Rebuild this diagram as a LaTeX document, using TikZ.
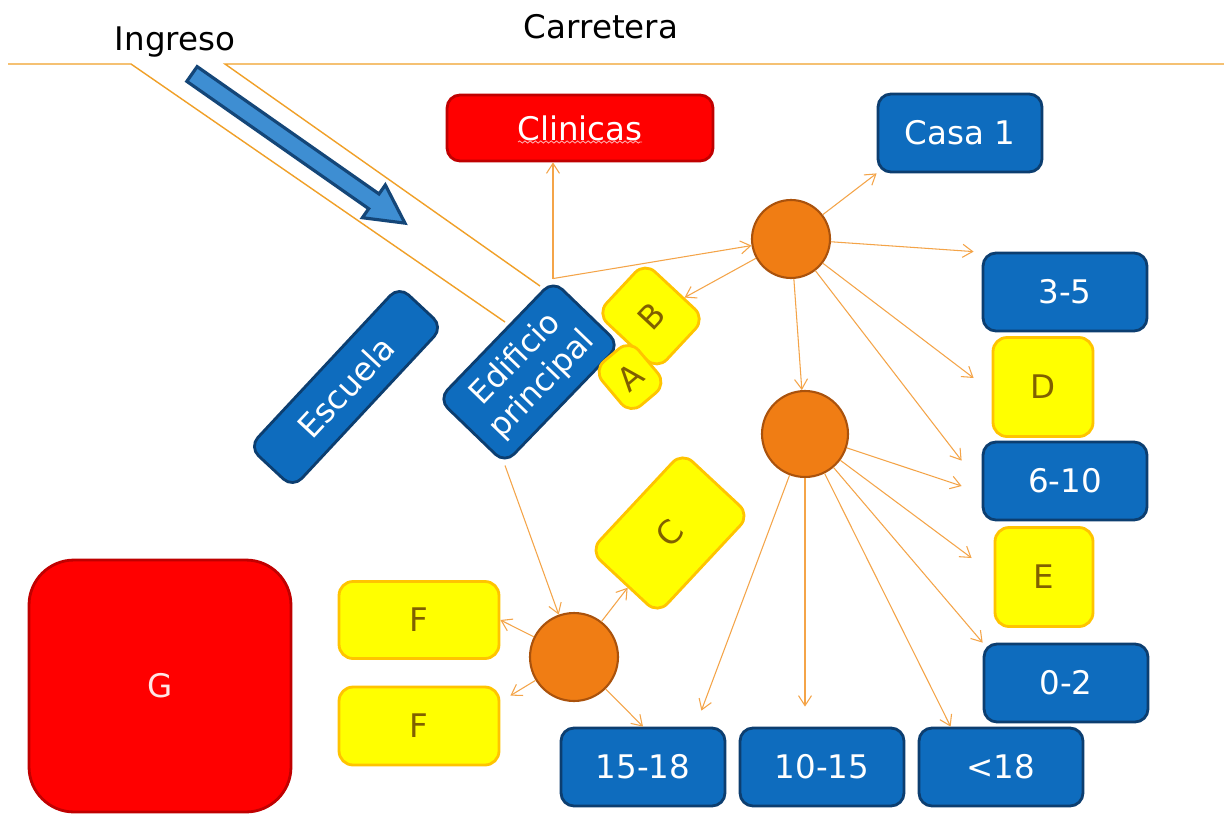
\documentclass[tikz,border=0pt]{standalone}
\usepackage{fontspec}
\setmainfont{DejaVu Sans}
\usetikzlibrary{positioning,arrows.meta,calc,decorations.pathmorphing}

\definecolor{boxblue}{RGB}{14,108,190}
\definecolor{blueedge}{RGB}{12,62,112}
\definecolor{boxred}{RGB}{255,0,0}
\definecolor{rededge}{RGB}{192,0,0}
\definecolor{boxyellow}{RGB}{255,255,0}
\definecolor{yellowedge}{RGB}{255,196,0}
\definecolor{yellowtext}{RGB}{128,96,0}
\definecolor{hubfill}{RGB}{240,125,20}
\definecolor{hubedge}{RGB}{170,82,12}
\definecolor{linkorange}{RGB}{244,164,72}
\definecolor{roadorange}{RGB}{240,160,40}
\definecolor{arrowfill}{RGB}{62,142,210}
\definecolor{arrowedge}{RGB}{20,70,120}
\definecolor{wavepink}{RGB}{255,170,170}

\tikzset{
  blue box/.style={rectangle, rounded corners=0.26cm, draw=blueedge, line width=1.6pt,
    fill=boxblue, text=white, minimum width=3.28cm, minimum height=1.56cm},
  yellow box/.style={rectangle, rounded corners=0.28cm, draw=yellowedge, line width=1.6pt,
    fill=boxyellow, text=yellowtext},
  red box/.style={rectangle, rounded corners=0.26cm, draw=rededge, line width=1.6pt,
    fill=boxred, text=white},
  hub/.style={circle, draw=hubedge, fill=hubfill, line width=1.2pt, inner sep=0pt},
  link/.style={draw=linkorange, line width=0.6pt, -{Straight Barb[length=2mm,width=2.6mm]}},
  road/.style={draw=roadorange, line width=0.8pt},
}

\begin{document}
\begin{tikzpicture}[x=0.02cm, y=-0.02cm, font=\fontsize{18.5}{22}\selectfont]
  \fill[white] (0,0) rectangle (1224,815);
  \useasboundingbox (0,0) rectangle (1224,815);

  % carretera e ingreso
  \node[anchor=base] (carretera) at (601,38) {Carretera};
  \node[anchor=base] (ingreso) at (175,50) {Ingreso};
  \draw[road] (8,64) -- (131,64) -- (505,322);
  \draw[road] (1224,64) -- (225,64) -- (540,286);
  \begin{scope}[shift={(192,74)}, rotate=-35]
    \draw[arrowedge, fill=arrowfill, line width=1.8pt, line join=miter]
      (0,-9) -- (222,-9) -- (222,-20) -- (260,0) -- (222,20) -- (222,9) -- (0,9) -- cycle;
  \end{scope}

  % edificios
  \node[red box, minimum width=5.32cm, minimum height=1.32cm] (clin) at (580,128) {Clinicas};
  \draw[wavepink, line width=0.5pt, decorate, decoration={snake, amplitude=0.6pt, segment length=3pt}]
    ($(clin.center)+(-62,14)$) -- ($(clin.center)+(62,14)$);
  \node[blue box, minimum width=4.4cm, minimum height=1.2cm, rotate=47] (escuela) at (346,387) {Escuela};
  \node[blue box, minimum width=3.3cm, minimum height=1.85cm, rotate=46, align=center,
    font=\fontsize{18}{21}\selectfont] (edif) at (529,372) {Edificio\\principal};
  \node[yellow box, minimum width=1.4cm, minimum height=1.65cm, rotate=47] (boxB) at (651,316) {B};
  \node[yellow box, minimum width=0.95cm, minimum height=1.15cm, rotate=40] (boxA) at (630,377) {A};
  \node[yellow box, minimum width=2.7cm, minimum height=1.85cm, rotate=47] (boxC) at (670,533) {C};

  \node[blue box] (casa) at (960,133) {Casa 1};
  \node[blue box] (t35) at (1065,292) {3-5};
  \node[yellow box, minimum width=2cm, minimum height=1.98cm] (boxD) at (1043,387) {D};
  \node[blue box] (t610) at (1065,481) {6-10};
  \node[yellow box, minimum width=1.96cm, minimum height=1.98cm] (boxE) at (1044,577) {E};
  \node[blue box] (t02) at (1066,683) {0-2};
  \node[blue box] (tlt) at (1001,767) {<18};
  \node[blue box] (t1015) at (822,767) {10-15};
  \node[blue box] (t1518) at (643,767) {15-18};

  \node[red box, rounded corners=0.9cm, minimum width=5.24cm, minimum height=5.04cm,
    text=white!90!red] (bigG) at (160,686) {G};
  \node[yellow box, minimum width=3.2cm, minimum height=1.54cm] (f1) at (419,620) {F};
  \node[yellow box, minimum width=3.2cm, minimum height=1.56cm] (f2) at (419,726) {F};

  % nudos
  \node[hub, minimum size=1.56cm] (c1) at (791,239) {};
  \node[hub, minimum size=1.72cm] (c2) at (805,434) {};
  \node[hub, minimum size=1.76cm] (c3) at (574,657) {};

  % flechas
  \draw[link] (edif.north east) -- (edif.north east |- clin.south);
  \draw[link] (edif.north east) -- (c1);
  \draw[link] (edif.south west) -- (c3);
  \draw[link] (c1) -- (boxB);
  \draw[link] (c1) -- (casa.south west);
  \draw[link] (c1) -- ($(t35.north west)+(-8,0)$);
  \draw[link] (c1) -- ($(boxD.west)+(-18,-9)$);
  \draw[link] (c1) -- ($(t610.north west)+(-20,20)$);
  \draw[link] (c1) -- (c2);
  \draw[link] (c2) -- ($(t610.west)+(-20,5)$);
  \draw[link] (c2) -- ($(boxE.west)+(-22,-19)$);
  \draw[link] (c2) -- (t02.north west);
  \draw[link] (c2) -- ($(tlt.north west)+(33,0)$);
  \draw[link] (c2.south) -- ($(c2.south |- t1015.north)+(0,-20)$);
  \draw[link] (c2) -- ($(t1518.north east)+(-25,-16)$);
  \draw[link] (c3) -- (boxC);
  \draw[link] (c3) -- (f1.east);
  \draw[link] (c3) -- ($(f2.north east)+(10,10)$);
  \draw[link] (c3) -- (t1518.north);
\end{tikzpicture}
\end{document}
